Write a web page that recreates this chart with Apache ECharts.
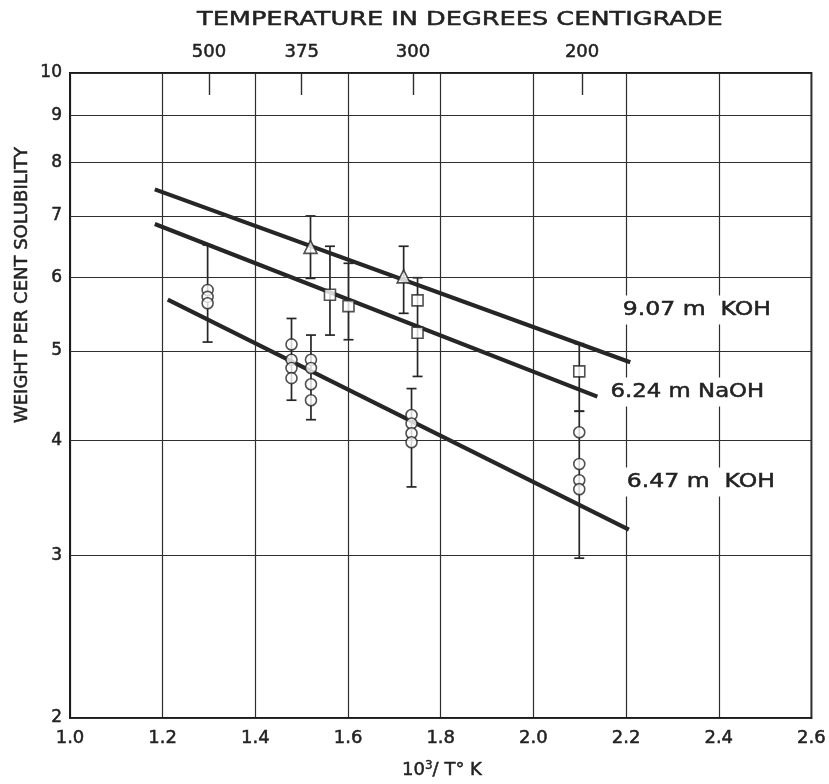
<!DOCTYPE html>
<html>
<head>
<meta charset="utf-8">
<script src="https://cdn.jsdelivr.net/npm/echarts@6/dist/echarts.min.js"></script>
<style>html,body{margin:0;padding:0;background:#fff;}#c{width:829px;height:784px;}</style>
</head>
<body>
<div id="c"></div>
<script>
// ---- data ----
const yTicks = [2, 3, 4, 5, 6, 7, 8, 9, 10];
const topTickPos = [1.30, 1.50, 1.74, 2.105];
const topTickLabels = ['500', '375', '300', '200'];

// circles (6.47 m KOH)
const circlePts = [[1.297,5.82],[1.297,5.72],[1.297,5.63],
  [1.478,5.08],[1.478,4.89],[1.478,4.79],[1.478,4.67],
  [1.520,4.89],[1.520,4.79],[1.520,4.60],[1.520,4.42],
  [1.737,4.26],[1.737,4.17],[1.737,4.07],[1.737,3.98],
  [2.099,4.08],[2.099,3.77],[2.099,3.62],[2.099,3.54]];
const circleErr = [[1.297,5.11,6.51],[1.478,4.42,5.42],[1.520,4.21,5.20],[1.737,3.56,4.55],[2.099,2.98,4.30]];
// squares (6.24 m NaOH)
const squarePts = [[1.561,5.75],[1.601,5.59],[1.750,5.67],[1.750,5.23],[2.099,4.75]];
const squareErr = [[1.561,5.20,6.49],[1.601,5.14,6.22],[1.750,4.69,6.00],[2.099,4.30,5.09]];
// triangles (9.07 m KOH)
const triPts = [[1.519,6.48],[1.720,6.02]];
const triErr = [[1.519,5.99,7.00],[1.720,5.49,6.49]];
// fitted lines
const koh907 = [[1.183,7.48],[2.209,4.86]];
const naoh624 = [[1.183,6.86],[2.138,4.46]];
const koh647 = [[1.211,5.68],[2.206,3.20]];

const INK = '#262626';
const TXT = '#222';
const FONT = 'DejaVu Sans';
const THICK = { textBorderColor: TXT, textBorderWidth: 0.5 };

function errSeries(data) {
  return {
    type: 'custom', z: 3, silent: true,
    renderItem: function (params, api) {
      const top = api.coord([api.value(0), api.value(2)]);
      const bot = api.coord([api.value(0), api.value(1)]);
      const w = 5;
      const ls = { stroke: INK, lineWidth: 1.7 };
      return { type: 'group', children: [
        { type: 'line', shape: { x1: top[0], y1: top[1], x2: bot[0], y2: bot[1] }, style: ls },
        { type: 'line', shape: { x1: top[0]-w, y1: top[1], x2: top[0]+w, y2: top[1] }, style: ls },
        { type: 'line', shape: { x1: bot[0]-w, y1: bot[1], x2: bot[0]+w, y2: bot[1] }, style: ls }
      ]};
    },
    encode: { x: 0, y: [1, 2] },
    data: data
  };
}
function lineSeries(data) {
  return { type: 'line', z: 2, data: data, symbol: 'none', silent: true,
    lineStyle: { color: INK, width: 4.2 } };
}
function ptSeries(data, symbol, size) {
  return { type: 'scatter', z: 5, data: data, symbol: symbol, symbolSize: size, silent: true,
    itemStyle: { color: '#fff', borderColor: INK, borderWidth: 1.6 } };
}
function txt(text, x, y, size, sx, extra) {
  return { type: 'text', z: 100, x: x, y: y, scaleX: sx,
    style: Object.assign({ text: text, x: 0, y: 0, align: 'left', verticalAlign: 'middle',
      font: size + 'px ' + FONT, fill: TXT, stroke: TXT, lineWidth: 0.5 }, extra || {}) };
}

const chart = echarts.init(document.getElementById('c'));
chart.setOption({
  backgroundColor: '#fff',
  animation: false,
  grid: { left: 70, right: 14, top: 73, bottom: 66, show: true, borderColor: '#1a1a1a', borderWidth: 1.8 },
  xAxis: [{
    type: 'value', min: 1.0, max: 2.6, interval: 0.2,
    axisLine: { show: true, lineStyle: { color: '#1a1a1a', width: 1.8 } },
    axisTick: { show: false },
    axisLabel: Object.assign({ margin: 11, fontSize: 18, fontFamily: FONT, color: TXT, formatter: v => v.toFixed(1) }, THICK),
    splitLine: { show: true, lineStyle: { color: '#2e2e2e', width: 1.2 } }
  }, {
    type: 'value', position: 'top', min: 1.0, max: 2.6,
    axisLine: { show: false },
    axisTick: { show: true, inside: true, length: 22, customValues: topTickPos, lineStyle: { color: '#2e2e2e', width: 1.4 } },
    axisLabel: Object.assign({ show: true, customValues: topTickPos, margin: 12, fontSize: 18, fontFamily: FONT, color: TXT,
      formatter: function (v) { const i = topTickPos.findIndex(p => Math.abs(p - v) < 1e-6); return i >= 0 ? topTickLabels[i] : ''; } }, THICK),
    splitLine: { show: false }
  }],
  yAxis: {
    type: 'log', logBase: 10, min: 2, max: 10,
    axisLine: { show: true, lineStyle: { color: '#1a1a1a', width: 1.8 } },
    axisTick: { show: false, customValues: yTicks },
    axisLabel: Object.assign({ customValues: yTicks, margin: 8, fontSize: 17, fontFamily: FONT, color: TXT }, THICK),
    splitLine: { show: false }
  },
  series: [
    { type: 'line', data: [], silent: true, z: 1,
      markLine: { silent: true, symbol: 'none', label: { show: false },
        lineStyle: { color: '#2e2e2e', width: 1.2, type: 'solid' },
        data: yTicks.map(v => ({ yAxis: v })) } },
    lineSeries(koh907), lineSeries(naoh624), lineSeries(koh647),
    errSeries(circleErr), errSeries(squareErr), errSeries(triErr),
    ptSeries(circlePts, 'circle', 11),
    ptSeries(squarePts, 'rect', 11),
    ptSeries(triPts, 'triangle', 13)
  ],
  graphic: [
    txt('TEMPERATURE IN DEGREES CENTIGRADE', 197, 20, 20, 1.28),
    Object.assign(txt('WEIGHT PER CENT SOLUBILITY', 22, 285, 18, 1, { align: 'center' }), { rotation: Math.PI / 2 }),
    txt('10{s|3}/ T° K', 442, 770, 18, 1, { align: 'center', rich: { s: { fontSize: 12, verticalAlign: 'top', fontFamily: FONT, fill: TXT, stroke: TXT, lineWidth: 0.4, padding: [0, 0, 9, 0] } } }),
    txt('9.07 m  KOH', 619, 310, 19, 1.24, { backgroundColor: '#fff', padding: [5, 3] }),
    txt('6.24 m NaOH', 607, 392, 19, 1.2, { backgroundColor: '#fff', padding: [5, 3] }),
    txt('6.47 m  KOH', 623, 482, 19, 1.24, { backgroundColor: '#fff', padding: [5, 3] })
  ]
});
</script>
</body>
</html>
